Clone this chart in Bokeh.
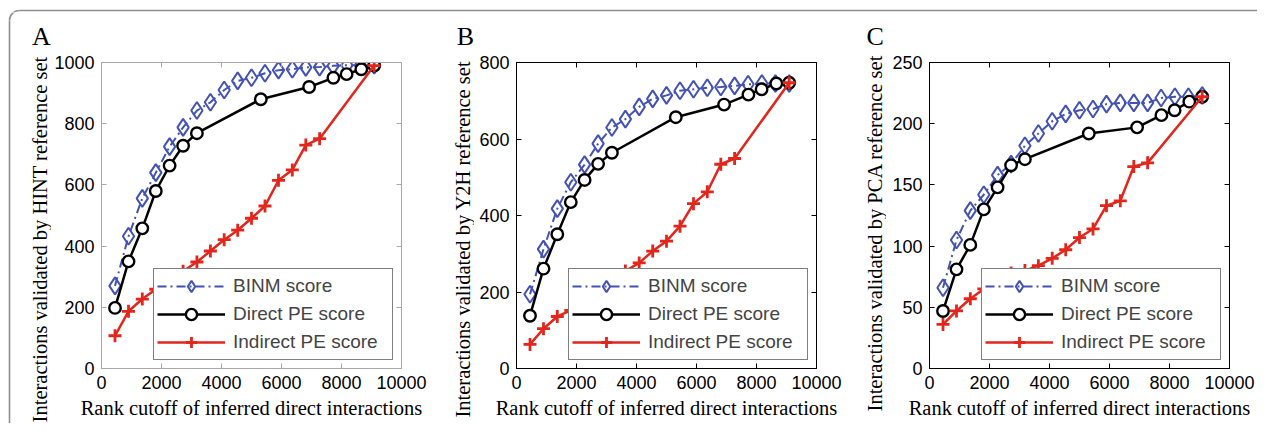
import math
from bokeh.plotting import figure
from bokeh.layouts import row, column
from bokeh.models import (Range1d, FixedTicker, LinearAxis, Legend, LegendItem,
                          Label, ColumnDataSource)
from bokeh.embed import file_html
from bokeh.resources import INLINE

# ---------------- data ----------------
rank_binm = [450, 900, 1360, 1810, 2270, 2720, 3180, 3630, 4090, 4540,
             5000, 5450, 5900, 6360, 6810, 7270, 7720, 8180, 8630, 9090]
rank_direct = [450, 900, 1360, 1810, 2270, 2720, 3180, 5310, 6920, 7730, 8170, 8660, 9090]
rank_indirect = [450, 900, 1360, 1810, 2270, 2720, 3180, 3630, 4090, 4540,
                 5000, 5450, 5900, 6360, 6810, 7270, 9090]

# Panel A - HINT
binm_hint = [270, 432, 556, 640, 725, 788, 843, 870, 910, 940,
             950, 965, 975, 978, 984, 985, 989, 991, 991, 991]
direct_hint = [198, 350, 458, 580, 663, 728, 769, 880, 920, 950, 962, 978, 990]
indirect_hint = [107, 187, 227, 259, 288, 318, 348, 384, 421, 452,
                 491, 531, 615, 649, 730, 751, 990]

# Panel B - Y2H
binm_y2h = [194, 312, 418, 487, 533, 588, 630, 652, 684, 705,
            714, 726, 730, 734, 736, 739, 743, 745, 745, 745]
direct_y2h = [138, 261, 351, 435, 493, 535, 564, 657, 690, 716, 730, 745, 747]
indirect_y2h = [63, 104, 136, 152, 178, 204, 230, 255, 276, 307,
                333, 372, 431, 462, 534, 549, 747]

# Panel C - PCA
binm_pca = [66, 105, 129, 142, 158, 167, 182, 192, 202, 208,
            211, 212, 216, 217, 217, 217, 221, 222, 222, 223]
direct_pca = [47, 81, 101, 130, 148, 166, 171, 192, 197, 207, 211, 218, 222]
indirect_pca = [36, 47, 57, 65, 72, 78, 80, 84, 90, 97,
                107, 114, 133, 137, 165, 168, 222]

x_ticks = [0, 2000, 4000, 6000, 8000, 10000]
series_names = ["BINM score", "Direct PE score", "Indirect PE score"]
x_title = "Rank cutoff of inferred direct interactions"

BLUE = "#4352b5"
RED = "#e2261c"
BORDER = "#8e8e8e"
SANS = "Liberation Sans"
SERIF = "Liberation Serif"

FIG_H = 411      # height of the panel row
TOP_H = 12       # height of the strip holding the outer border line
TOTAL_W = 1257
LETTER_PX = 26
YLAB_PX = 20.5


def no_align(f):
    try:
        f.frame_align = False
    except AttributeError:
        pass


def blank(width, height):
    """A figure whose frame is the whole canvas, 1 data unit = 1 pixel."""
    f = figure(width=width, height=height, output_backend="svg", toolbar_location=None,
               x_range=Range1d(0, width), y_range=Range1d(0, height),
               x_axis_type=None, y_axis_type=None,
               min_border=0, min_border_left=0, min_border_right=0,
               min_border_top=0, min_border_bottom=0)
    f.grid.visible = False
    f.outline_line_color = None
    f.border_fill_color = None
    f.background_fill_color = None
    no_align(f)
    return f


def gutter(width, letter, letter_x, ylabel, ylab_x, ylab_top, with_border=False):
    g = blank(width, FIG_H)
    # letter: baseline wanted at 33.3 px below the gutter top; anchor at text middle
    g.add_layout(Label(x=letter_x, y=FIG_H - (33.3 - 0.34 * LETTER_PX), text=letter,
                       text_font=SERIF, text_font_size=f"{LETTER_PX}px", text_color="black",
                       text_align="left", text_baseline="middle"))
    # rotated y label: baseline wanted at ylab_x; anchor at text middle
    g.add_layout(Label(x=ylab_x - 0.34 * YLAB_PX, y=FIG_H - ylab_top, text=ylabel,
                       angle=math.pi / 2, text_font=SERIF, text_font_size=f"{YLAB_PX}px",
                       text_color="black", text_align="right", text_baseline="middle"))
    if with_border:
        g.arc(x=[19], y=[FIG_H + TOP_H - 20], radius=10, start_angle=math.pi / 2,
              end_angle=math.pi, line_color=BORDER, line_width=1.6)
        g.segment(x0=[9], y0=[FIG_H + TOP_H - 20], x1=[9], y1=[0],
                  line_color=BORDER, line_width=1.6)
    return g


def make_panel(binm, direct, indirect, ymax, yticks, width, border_left, frame_color):
    frame_w = 300
    frame_h = 306
    p = figure(width=width, height=FIG_H, output_backend="svg", toolbar_location=None,
               x_range=Range1d(0, 10000), y_range=Range1d(0, ymax),
               min_border_left=border_left, min_border_right=width - border_left - frame_w,
               min_border_top=50, min_border_bottom=FIG_H - 50 - frame_h)
    p.border_fill_color = None
    p.background_fill_color = "white"
    p.grid.visible = False
    p.outline_line_color = frame_color
    p.outline_line_width = 1

    for ax, ticks in ((p.xaxis[0], x_ticks), (p.yaxis[0], yticks)):
        ax.ticker = FixedTicker(ticks=ticks)
        ax.major_tick_in = 5
        ax.major_tick_out = 0
        ax.minor_tick_line_color = None
        ax.axis_line_color = frame_color
        ax.major_tick_line_color = frame_color
        ax.major_label_text_font = SANS
        ax.major_label_text_font_size = "18px"
        ax.major_label_text_color = "black"
        ax.major_label_standoff = 7

    p.xaxis[0].axis_label = x_title
    p.xaxis[0].axis_label_text_font = SERIF
    p.xaxis[0].axis_label_text_font_size = "20.5px"
    p.xaxis[0].axis_label_text_font_style = "normal"
    p.xaxis[0].axis_label_text_color = "black"
    p.xaxis[0].axis_label_standoff = 5

    for ticks, side in ((x_ticks, "above"), (yticks, "right")):
        ax = LinearAxis(ticker=FixedTicker(ticks=ticks), major_tick_in=5, major_tick_out=0,
                        minor_tick_line_color=None, axis_line_color=frame_color,
                        major_tick_line_color=frame_color,
                        major_label_text_font_size="1px", major_label_text_color=None,
                        major_label_standoff=0)
        p.add_layout(ax, side)

    sb = ColumnDataSource(dict(x=rank_binm, y=binm))
    sd = ColumnDataSource(dict(x=rank_direct, y=direct))
    si = ColumnDataSource(dict(x=rank_indirect, y=indirect))

    lb = p.line("x", "y", source=sb, color=BLUE, line_width=2, line_dash="9 4 2 4")
    mb = p.scatter("x", "y", source=sb, marker="diamond", size=17,
                   line_color=BLUE, line_width=2, fill_color=None)
    ld = p.line("x", "y", source=sd, color="black", line_width=2.5)
    md = p.scatter("x", "y", source=sd, marker="circle", size=11.5,
                   line_color="black", line_width=2.4, fill_color="white")
    li = p.line("x", "y", source=si, color=RED, line_width=2.5)
    mi = p.scatter("x", "y", source=si, marker="cross", size=13,
                   line_color=RED, line_width=2.8)

    legend = Legend(items=[LegendItem(label=series_names[0], renderers=[lb, mb]),
                           LegendItem(label=series_names[1], renderers=[ld, md]),
                           LegendItem(label=series_names[2], renderers=[li, mi])],
                    location="bottom_right", margin=8, padding=3, spacing=0,
                    glyph_width=68, glyph_height=28, label_height=28, label_width=156,
                    label_standoff=8,
                    label_text_font=SANS, label_text_font_size="19px",
                    border_line_color="black", border_line_width=1,
                    background_fill_color="white", background_fill_alpha=1.0)
    p.add_layout(legend)
    return p


# top strip with the outer frame line
top = blank(TOTAL_W, TOP_H)
top.segment(x0=[19], y0=[TOP_H - 10], x1=[TOTAL_W], y1=[TOP_H - 10],
            line_color=BORDER, line_width=1.6)
top.arc(x=[19], y=[TOP_H - 20], radius=10, start_angle=math.pi / 2, end_angle=math.pi,
        line_color=BORDER, line_width=1.6)

gA = gutter(51, "A", 31.6, "Interactions validated by HINT reference set", 46.4, 55.9 - TOP_H,
            with_border=True)
pA = make_panel(binm_hint, direct_hint, indirect_hint, 1000,
                [0, 200, 400, 600, 800, 1000], 394, 50, "#a8a8a8")
gB = gutter(29, "B", 11.2, "Interactions validated by Y2H  reference set", 24, 55 - TOP_H)
pB = make_panel(binm_y2h, direct_y2h, indirect_y2h, 800,
                [0, 200, 400, 600, 800], 384, 42, "black")
gC = gutter(28, "C", 8, "Interactions validated by PCA reference set", 23.8, 54 - TOP_H)
pC = make_panel(binm_pca, direct_pca, indirect_pca, 250,
                [0, 50, 100, 150, 200, 250], 371, 43, "black")

layout = column(top, row(gA, pA, gB, pB, gC, pC))

open("out.html", "w").write(file_html(layout, INLINE))
